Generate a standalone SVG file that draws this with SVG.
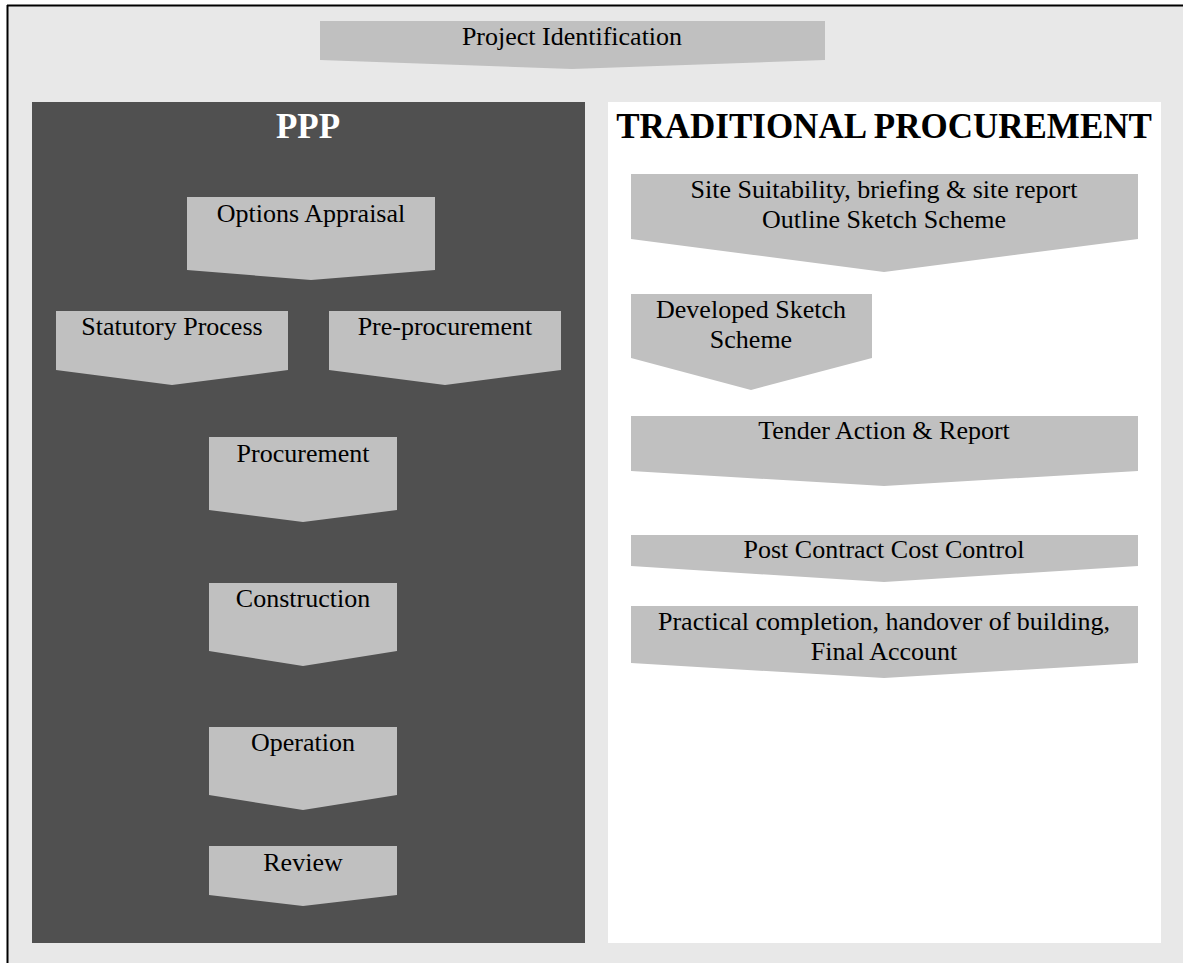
<svg xmlns="http://www.w3.org/2000/svg" width="1183" height="963" viewBox="0 0 1183 963">
  <style>
    .step { fill: #c0c0c0; }
    .lbl { font-family: "Liberation Serif", "Times New Roman", serif; font-size: 26px; fill: #000; text-anchor: middle; }
    .head { font-family: "Liberation Serif", "Times New Roman", serif; font-size: 35px; font-weight: bold; text-anchor: middle; }
  </style>

  <!-- page and frame -->
  <rect x="0" y="0" width="1183" height="963" fill="#ffffff"/>
  <rect x="8" y="6" width="1175" height="957" fill="#e8e8e8"/>
  <line x1="7.5" y1="5" x2="7.5" y2="963" stroke="#000" stroke-width="2"/>
  <line x1="7" y1="5.5" x2="1183" y2="5.5" stroke="#000" stroke-width="2"/>

  <!-- shared first step -->
  <g id="project-identification">
    <polygon class="step" points="320,21 825,21 825,60 572,69 320,60"/>
    <text class="lbl" x="572" y="45">Project Identification</text>
  </g>

  <!-- PPP column -->
  <g id="ppp-panel">
    <rect x="32" y="102" width="553" height="841" fill="#505050"/>
    <text class="head" x="308" y="138" fill="#ffffff">PPP</text>
  </g>
  <g id="options-appraisal">
    <polygon class="step" points="187,197 435,197 435,270 311,280 187,270"/>
    <text class="lbl" x="311" y="222">Options Appraisal</text>
  </g>
  <g id="statutory-process">
    <polygon class="step" points="56,311 288,311 288,370 172,385 56,370"/>
    <text class="lbl" x="172" y="335">Statutory Process</text>
  </g>
  <g id="pre-procurement">
    <polygon class="step" points="329,311 561,311 561,370 445,385 329,370"/>
    <text class="lbl" x="445" y="335">Pre-procurement</text>
  </g>
  <g id="procurement">
    <polygon class="step" points="209,437 397,437 397,510 303,522 209,510"/>
    <text class="lbl" x="303" y="462">Procurement</text>
  </g>
  <g id="construction">
    <polygon class="step" points="209,583 397,583 397,651 303,666 209,651"/>
    <text class="lbl" x="303" y="607">Construction</text>
  </g>
  <g id="operation">
    <polygon class="step" points="209,727 397,727 397,795 303,810 209,795"/>
    <text class="lbl" x="303" y="751">Operation</text>
  </g>
  <g id="review">
    <polygon class="step" points="209,846 397,846 397,895 303,906 209,895"/>
    <text class="lbl" x="303" y="871">Review</text>
  </g>

  <!-- traditional procurement column -->
  <g id="traditional-panel">
    <rect x="608" y="102" width="553" height="841" fill="#ffffff"/>
    <text class="head" x="884" y="138" fill="#000000">TRADITIONAL PROCUREMENT</text>
  </g>
  <g id="site-suitability">
    <polygon class="step" points="631,174 1138,174 1138,239 884,272 631,239"/>
    <text class="lbl" x="884" y="198">Site Suitability, briefing &amp; site report</text>
    <text class="lbl" x="884" y="228">Outline Sketch Scheme</text>
  </g>
  <g id="developed-sketch-scheme">
    <polygon class="step" points="631,294 872,294 872,358 751,390 631,358"/>
    <text class="lbl" x="751" y="318">Developed Sketch</text>
    <text class="lbl" x="751" y="348">Scheme</text>
  </g>
  <g id="tender-action">
    <polygon class="step" points="631,416 1138,416 1138,471 884,486 631,471"/>
    <text class="lbl" x="884" y="439">Tender Action &amp; Report</text>
  </g>
  <g id="post-contract">
    <polygon class="step" points="631,535 1138,535 1138,566 884,582 631,566"/>
    <text class="lbl" x="884" y="558">Post Contract Cost Control</text>
  </g>
  <g id="practical-completion">
    <polygon class="step" points="631,606 1138,606 1138,663 884,678 631,663"/>
    <text class="lbl" x="884" y="630">Practical completion, handover of building,</text>
    <text class="lbl" x="884" y="660">Final Account</text>
  </g>
</svg>
